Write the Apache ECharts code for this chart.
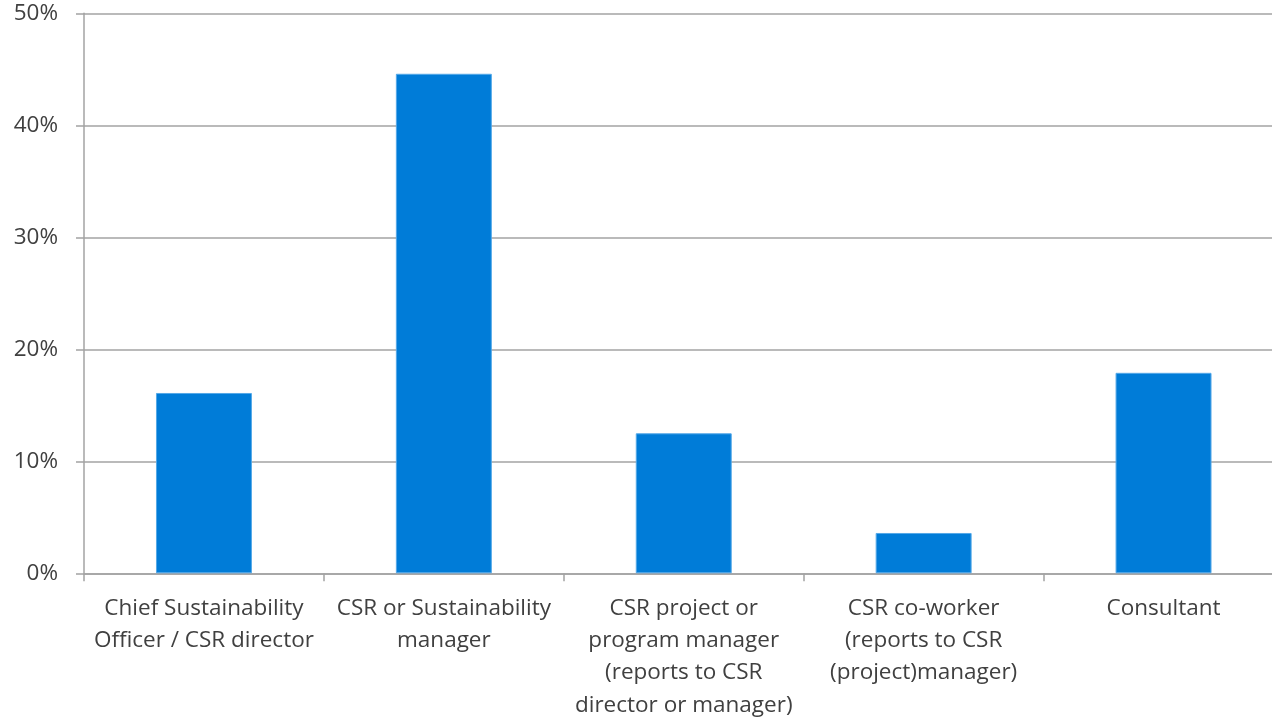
<!DOCTYPE html>
<html>
<head>
<meta charset="utf-8">
<script src="https://cdn.jsdelivr.net/npm/echarts@6/dist/echarts.min.js"></script>
<style>
  html, body { margin: 0; padding: 0; background: #fff; }
  #chart { width: 1272px; height: 721px; }
</style>
</head>
<body>
<div id="chart"></div>
<script>
const categories = [
  'Chief Sustainability\nOfficer / CSR director',
  'CSR or Sustainability\nmanager',
  'CSR project or\nprogram manager\n(reports to CSR\ndirector or manager)',
  'CSR co-worker\n(reports to CSR\n(project)manager)',
  'Consultant'
]
const shares = [16.1, 44.6, 12.5, 3.6, 17.9]
const yTicks = [0, 10, 20, 30, 40, 50]

const chart = echarts.init(document.getElementById('chart'))
const axisGray = '#a3a3a3'
const textColor = '#404040'

// the plot runs a little past the right edge of the window
const option = {
  animation: false,
  textStyle: { fontFamily: 'Open Sans' },
  grid: {
    left: 84,
    right: -11.5,
    top: 13.3,
    bottom: 147.7,
    outerBoundsMode: 'none'
  },
  xAxis: {
    type: 'category',
    data: categories,
    axisLine: { lineStyle: { color: axisGray, width: 1.5 } },
    axisTick: { show: true, length: 8, lineStyle: { color: axisGray, width: 1.5 } },
    axisLabel: {
      color: textColor,
      fontSize: 22.5,
      lineHeight: 32.3,
      margin: 19,
      interval: 0
    }
  },
  yAxis: {
    type: 'value',
    min: yTicks[0],
    max: yTicks[yTicks.length - 1],
    interval: 10,
    axisLine: { show: true, lineStyle: { color: axisGray, width: 1.5 } },
    axisTick: { show: true, length: 8, lineStyle: { color: axisGray, width: 1.5 } },
    splitLine: { lineStyle: { color: axisGray, width: 1.5 } },
    axisLabel: {
      color: textColor,
      fontSize: 22.5,
      margin: 26,
      formatter: v => v + '%'
    }
  },
  series: [{
    type: 'bar',
    data: shares,
    barWidth: '40%',
    itemStyle: {
      color: '#007cd8',
      borderColor: '#55a9e8',
      borderWidth: 1
    }
  }]
}
chart.setOption(option)
</script>
</body>
</html>
